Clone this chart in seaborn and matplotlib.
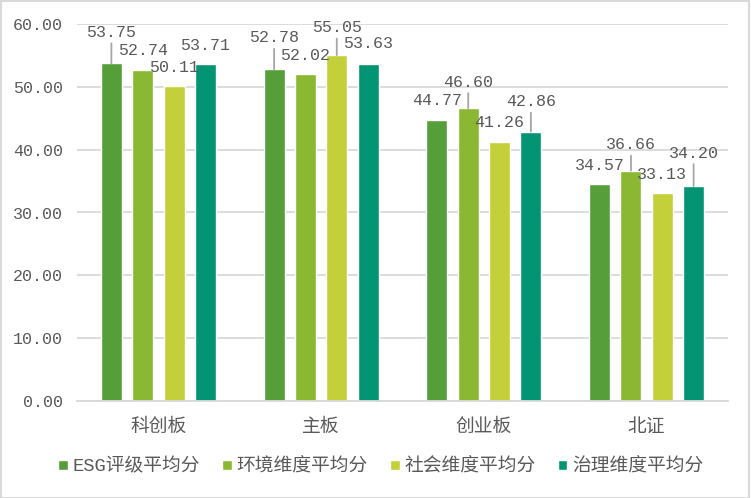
import matplotlib
matplotlib.use("Agg")
import matplotlib.pyplot as plt
import seaborn as sns
import pandas as pd
from matplotlib.patches import Rectangle

# ---- data ----
categories = ["科创板", "主板", "创业板", "北证"]
series_names = ["ESG评级平均分", "环境维度平均分", "社会维度平均分", "治理维度平均分"]
esg_avg = [53.75, 52.78, 44.77, 34.57]
env_avg = [52.74, 52.02, 46.60, 36.66]
soc_avg = [50.11, 55.05, 41.26, 33.13]
gov_avg = [53.71, 53.63, 42.86, 34.20]
y_ticks = [0, 10, 20, 30, 40, 50, 60]

# ---- style ----
colors = ["#559E3A", "#8BB833", "#C3D03A", "#039573"]
text_color = "#595959"
grid_color = "#D9D9D9"
leader_color = "#A6A6A6"
# label offset (pixels above bar top, to label centre); >25 gets a leader line
label_dy = [
    [33, 33.5, 21.5, 20],
    [21, 21, 28, 28],
    [21, 29.5, 21, 20.7],
    [20.2, 22.5, 32, 35],
]

all_values = [esg_avg, env_avg, soc_avg, gov_avg]
rows = []
for name, vals in zip(series_names, all_values):
    for cat, v in zip(categories, vals):
        rows.append({"板块": cat, "指标": name, "值": v})
df = pd.DataFrame(rows)

sns.set_theme(style="white")
plt.rcParams["font.family"] = ["Liberation Mono", "Noto Sans CJK SC", "DejaVu Sans"]

fig = plt.figure(figsize=(7.51, 4.98), dpi=100)
ax = fig.add_axes([77 / 751, 1 - 401 / 498, (728 - 77) / 751, (401 - 24) / 498])

sns.barplot(data=df, x="板块", y="值", hue="指标", order=categories,
            hue_order=series_names, palette=colors, width=0.77, gap=0.33,
            saturation=1, ax=ax, errorbar=None, legend=True)

num_size = 12
cjk_size = 13.5
ax.set_ylim(0, 60)
ax.set_xlim(-0.5, len(categories) - 0.5)
ax.set_yticks(y_ticks)
ax.set_yticklabels([f"{t:.2f}" for t in y_ticks], fontsize=num_size,
                   family=["Liberation Mono"], color=text_color)
ax.set_xticks(range(len(categories)))
ax.set_xticklabels(categories, fontsize=cjk_size, family=["Noto Sans CJK SC"], color=text_color)
ax.tick_params(axis="y", length=0, pad=10)
ax.tick_params(axis="x", length=0, pad=11)
ax.set_xlabel("")
ax.set_ylabel("")
ax.yaxis.grid(True, color=grid_color, lw=1.3)
ax.set_axisbelow(True)
for s in ["top", "right", "left"]:
    ax.spines[s].set_visible(False)
ax.spines["bottom"].set_color(grid_color)
ax.spines["bottom"].set_linewidth(1.3)

# data labels
for si, cont in enumerate(ax.containers):
    for ci, bar in enumerate(cont):
        xc = bar.get_x() + bar.get_width() / 2
        top = bar.get_height()
        dy = label_dy[si][ci]
        ax.annotate(f"{all_values[si][ci]:.2f}", xy=(xc, top), xytext=(0, dy - 6.5),
                    textcoords="offset pixels", ha="center", va="baseline",
                    fontsize=num_size, family=["Liberation Mono"], color=text_color,
                    annotation_clip=False)
        if dy > 25:
            ax.annotate("", xy=(xc, top), xytext=(0, dy - 13),
                        textcoords="offset pixels",
                        arrowprops=dict(arrowstyle="-", color=leader_color, lw=1.3,
                                        shrinkA=0, shrinkB=0),
                        annotation_clip=False)

sns.move_legend(ax, "center", bbox_to_anchor=(0.507, 1 - 467 / 498),
                bbox_transform=fig.transFigure, ncol=4, frameon=False, title=None,
                handlelength=0.5, handleheight=0.5, handletextpad=0.25,
                columnspacing=1.2, fontsize=cjk_size)
for t in ax.get_legend().get_texts():
    t.set_color(text_color)

fig.patches.append(Rectangle((0.001, 0.001), 0.997, 0.996, transform=fig.transFigure,
                             fill=False, edgecolor=grid_color, lw=1.5))

fig.savefig("out.png", dpi=100)
